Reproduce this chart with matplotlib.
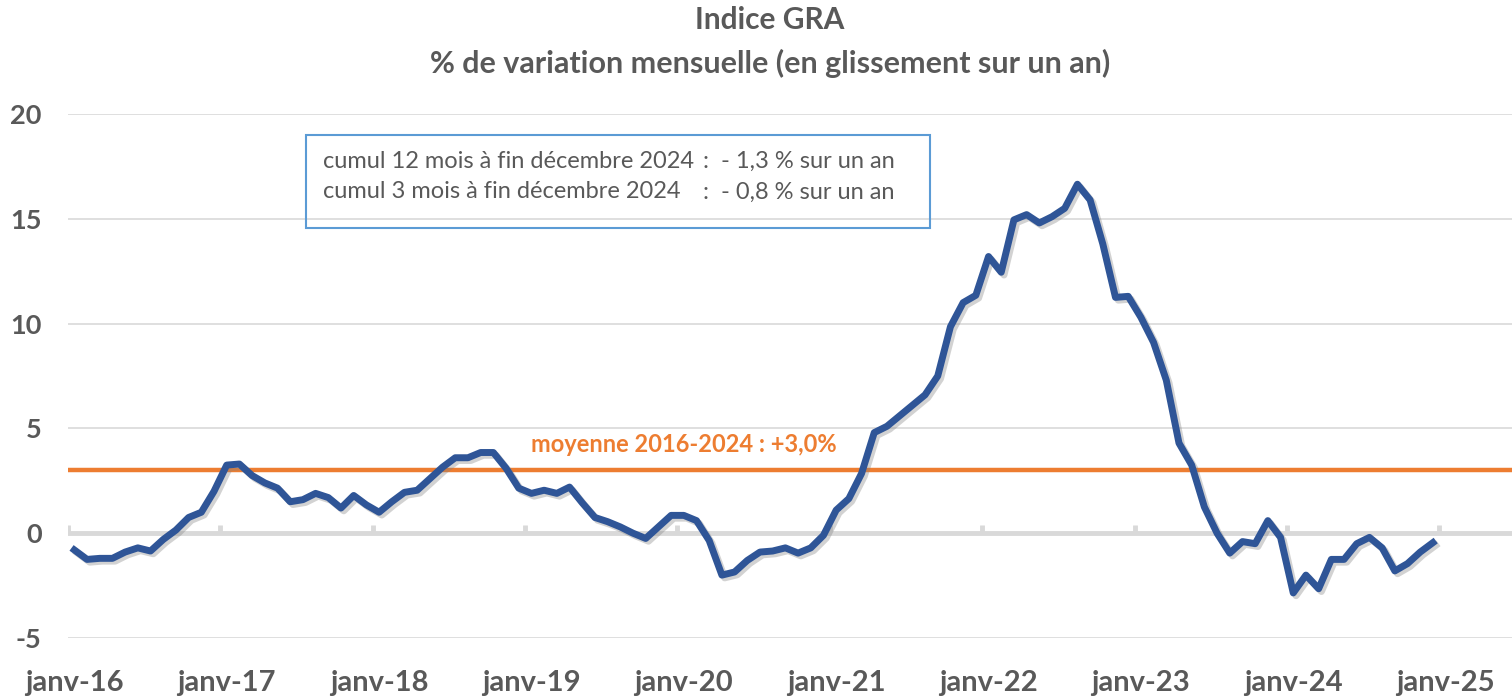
import matplotlib
matplotlib.use("Agg")
import matplotlib.pyplot as plt
import matplotlib.patheffects as pe
from matplotlib.patches import Rectangle

plt.rcParams['font.family'] = ['Lato', 'DejaVu Sans']

# monthly year-on-year change, janv-16 .. déc-24
values = [
    -0.8, -1.25, -1.2, -1.2, -0.9, -0.7, -0.85, -0.3, 0.15, 0.75, 1.0, 2.0,      # 2016
    3.25, 3.3, 2.75, 2.4, 2.15, 1.5, 1.6, 1.9, 1.7, 1.2, 1.8, 1.35,             # 2017
    1.0, 1.5, 1.95, 2.05, 2.6, 3.15, 3.6, 3.6, 3.85, 3.85, 3.1, 2.15,           # 2018
    1.9, 2.05, 1.9, 2.2, 1.45, 0.75, 0.55, 0.3, 0.0, -0.25, 0.3, 0.85,          # 2019
    0.85, 0.6, -0.35, -2.0, -1.85, -1.3, -0.9, -0.85, -0.7, -0.95, -0.7, -0.1,  # 2020
    1.1, 1.65, 2.85, 4.8, 5.1, 5.6, 6.1, 6.6, 7.5, 9.85, 11.0, 11.35,           # 2021
    13.2, 12.45, 14.95, 15.2, 14.8, 15.1, 15.5, 16.65, 15.9, 13.8, 11.25, 11.3, # 2022
    10.3, 9.1, 7.3, 4.3, 3.25, 1.25, 0.0, -0.95, -0.4, -0.5, 0.6, -0.2,         # 2023
    -2.85, -2.0, -2.65, -1.25, -1.25, -0.5, -0.2, -0.7, -1.8, -1.45, -0.9, -0.45, # 2024
]
moyenne = 3.0
year_labels = ['janv-16', 'janv-17', 'janv-18', 'janv-19', 'janv-20',
               'janv-21', 'janv-22', 'janv-23', 'janv-24', 'janv-25']
yticks = [-5, 0, 5, 10, 15, 20]

grey = '#595959'
blue = '#2f5597'
orange = '#ed7d31'

W, H = 1512, 699
fig = plt.figure(figsize=(W / 100, H / 100), dpi=100)
ax = fig.add_axes([68 / W, 1 - 638 / H, 1 - 68 / W, (638 - 114) / H])

x = list(range(len(values)))
label_pos = [12 * k for k in range(len(year_labels))]
tick_pos = [p - 0.5 for p in label_pos]

# grid + zero axis
for v in yticks:
    if v != 0:
        ax.axhline(v, color='#d9d9d9', lw=1.2, zorder=1)
ax.axhline(0, color='#d9d9d9', lw=3.5, zorder=2)
ax.vlines(tick_pos, 0, 0.4, color='#d9d9d9', lw=3.5, zorder=2)

ax.axhline(moyenne, color=orange, lw=3.2, zorder=3)
ax.plot(x, values, color=blue, lw=5, zorder=4, solid_joinstyle='round',
        path_effects=[pe.SimpleLineShadow(offset=(2, -2), shadow_color='gray', alpha=0.35),
                      pe.Normal()])

ax.text(48, 4.25, 'moyenne 2016-2024 : +3,0%', color=orange, fontsize=17,
        fontweight='bold', ha='center', va='center', zorder=5)

ax.set_xlim(-0.5, (W - 74) / 12.7)
ax.set_ylim(-5, 20)
ax.set_yticks(yticks)
ax.set_yticklabels([str(v) for v in yticks])
ax.set_xticks(label_pos)
ax.set_xticklabels(year_labels)
ax.tick_params(axis='y', length=0, pad=19, labelsize=19.5, labelcolor=grey)
ax.tick_params(axis='x', length=0, pad=23, labelsize=21, labelcolor=grey)
for lab in ax.get_xticklabels() + ax.get_yticklabels():
    lab.set_fontweight('bold')
for s in ax.spines.values():
    s.set_visible(False)

# titles
fig.text(770 / W, 1 - 20 / H, 'Indice GRA', ha='center', va='center',
         fontsize=21.5, fontweight='bold', color=grey)
fig.text(770 / W, 1 - 63 / H, '% de variation mensuelle (en glissement sur un an)',
         ha='center', va='center', fontsize=22, fontweight='bold', color=grey)

# info box
fig.patches.append(Rectangle((306 / W, 1 - 228 / H), (930 - 306) / W, (228 - 135) / H,
                             transform=fig.transFigure, fill=False,
                             edgecolor='#5b9bd5', lw=1.5))
fig.text(323 / W, 1 - 161 / H, 'cumul 12 mois à fin décembre 2024', fontsize=17,
         color=grey, va='center')
fig.text(703 / W, 1 - 161 / H, ':  - 1,3 % sur un an', fontsize=17, color=grey, va='center')
fig.text(323 / W, 1 - 192 / H, 'cumul 3 mois à fin décembre 2024', fontsize=17,
         color=grey, va='center')
fig.text(703 / W, 1 - 192 / H, ':  - 0,8 % sur un an', fontsize=17, color=grey, va='center')

fig.savefig('out.png', dpi=100, facecolor='white')
